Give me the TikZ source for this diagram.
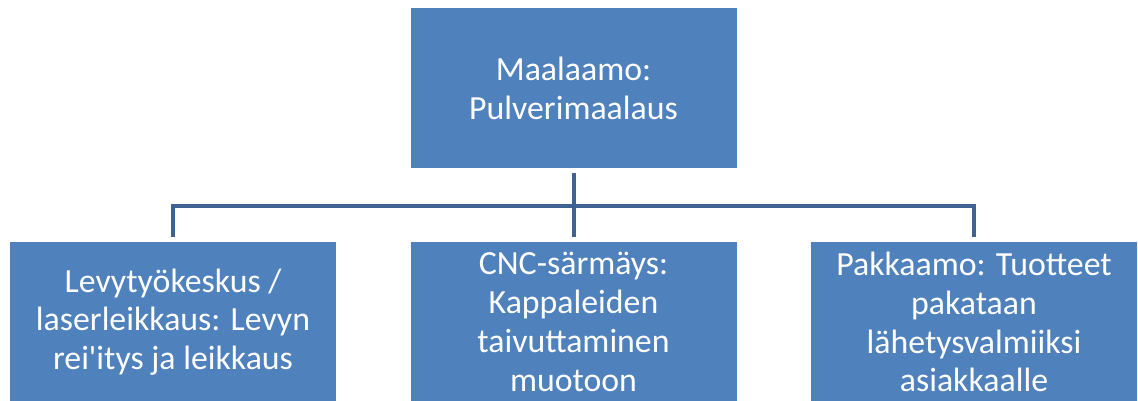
\documentclass[tikz,border=0pt]{standalone}
\usepackage{fontspec}
\setmainfont{Carlito}
\definecolor{boxblue}{RGB}{79,129,189}
\definecolor{lineblue}{RGB}{62,99,147}
\begin{document}
\begin{tikzpicture}[x=1pt,y=-1pt,
  orgbox/.style={fill=boxblue,draw=none,minimum width=326pt,minimum height=160pt,inner sep=0pt,
    text=white,align=center,font=\fontsize{33.8}{38.8}\selectfont},
  conn/.style={draw=lineblue,line width=4pt,line join=miter}]
\useasboundingbox (0,0) rectangle (1138,401);
\node[orgbox] (top) at (573.5,88) {Maalaamo:\\Pulverimaalaus};
\node[orgbox] (left) at (173,322) {Levytyökeskus /\\laserleikkaus: Levyn\\rei\textquotesingle itys ja leikkaus};
\node[orgbox] (mid) at (573.5,322) {CNC-särmäys:\\Kappaleiden\\taivuttaminen\\muotoon};
\node[orgbox] (right) at (974,322) {Pakkaamo: Tuotteet\\pakataan\\lähetysvalmiiksi\\asiakkaalle};
\coordinate (bus) at (573.5,206);
\draw[conn] ([yshift=-5pt]top.south) -- ([yshift=5pt]mid.north);
\draw[conn] ([yshift=5pt]left.north) |- (bus) -| ([yshift=5pt]right.north);
\end{tikzpicture}
\end{document}
